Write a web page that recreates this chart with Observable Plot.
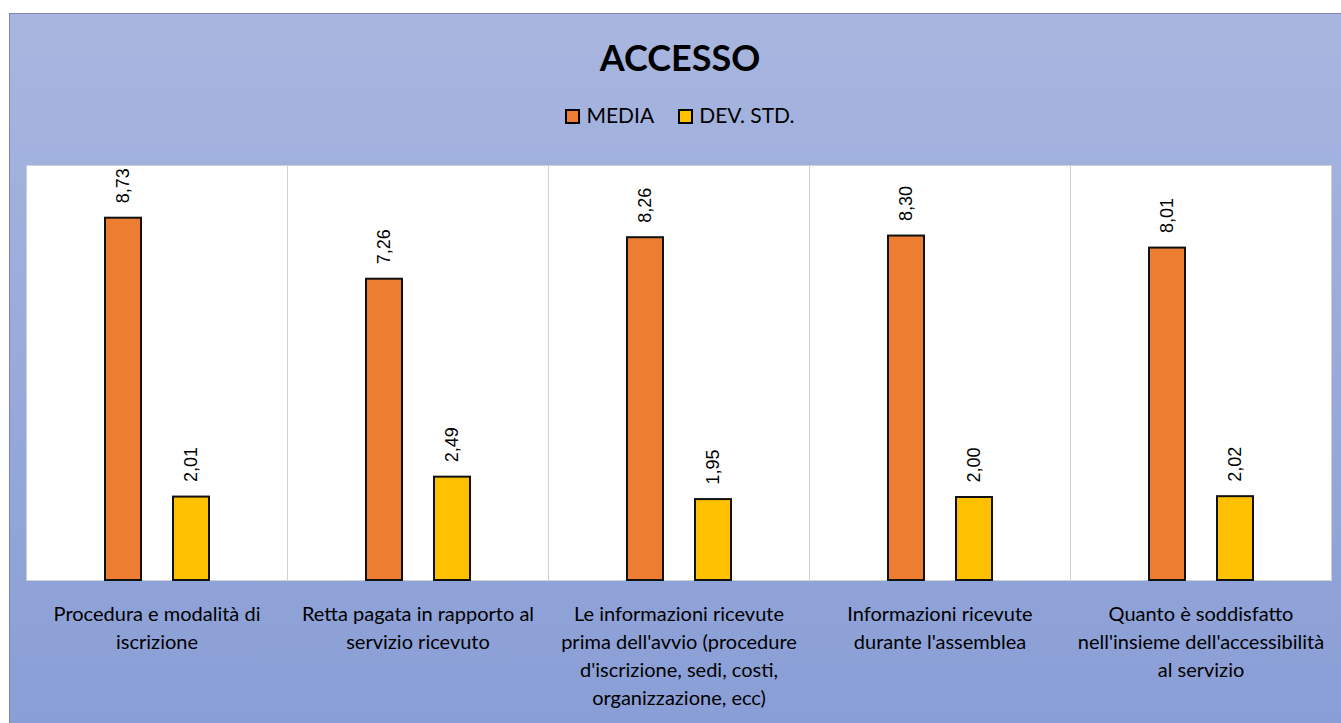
<!DOCTYPE html>
<html>
<head>
<meta charset="utf-8">
<script src="https://cdn.jsdelivr.net/npm/d3@7"></script>
<script src="https://cdn.jsdelivr.net/npm/@observablehq/plot@0.6"></script>
<style>
  html, body { margin: 0; padding: 0; background: white; overflow: hidden; }
  #chart {
    position: absolute; left: 9px; top: 13px; width: 1340px; height: 720px;
    border-top: 1px solid #7F84B5; border-left: 1px solid #7F84B5;
    background: linear-gradient(#A8B6DF, #899ED6);
    font-family: Lato, "Open Sans", sans-serif;
  }
  #title { height: 86px; line-height: 86px; text-align: center; font-weight: bold; font-size: 36px; color: #000; }
  #legend { height: 30px; line-height: 30px; text-align: center; font-size: 21px; color: #000; }
  .sw { display: inline-block; width: 11px; height: 11px; border: 2px solid #000; vertical-align: -1px; margin-right: 6px; }
  .item { display: inline-block; margin: 0 12px; }
</style>
</head>
<body>
<div id="chart">
  <div id="title">ACCESSO</div>
  <div id="legend"></div>
</div>
<script>
const categories = [
  "Procedura e modalità di iscrizione",
  "Retta pagata in rapporto al servizio ricevuto",
  "Le informazioni ricevute prima dell'avvio (procedure d'iscrizione, sedi, costi, organizzazione, ecc)",
  "Informazioni ricevute durante l'assemblea",
  "Quanto è soddisfatto nell'insieme dell'accessibilità al servizio"
];
const tickLabels = [
  "Procedura e modalità di\niscrizione",
  "Retta pagata in rapporto al\nservizio ricevuto",
  "Le informazioni ricevute\nprima dell'avvio (procedure\nd'iscrizione, sedi, costi,\norganizzazione, ecc)",
  "Informazioni ricevute\ndurante l'assemblea",
  "Quanto è soddisfatto\nnell'insieme dell'accessibilità\nal servizio"
];
const series = ["MEDIA", "DEV. STD."];
const media = [8.73, 7.26, 8.26, 8.30, 8.01];
const devStd = [2.01, 2.49, 1.95, 2.00, 2.02];
const colors = ["#ED7D31", "#FFC000"];

const data = [];
categories.forEach((c, i) => {
  data.push({category: c, series: series[0], value: media[i]});
  data.push({category: c, series: series[1], value: devStd[i]});
});

const fmt = v => d3.format(".2f")(v).replace(".", ",");

// legend
const legend = document.getElementById("legend");
series.forEach((s, i) => {
  const span = document.createElement("span");
  span.className = "item";
  span.innerHTML = `<span class="sw" style="background:${colors[i]}"></span>${s}`;
  legend.appendChild(span);
});

const plot = Plot.plot({
  width: 1340,
  height: 590,
  marginLeft: 16,
  marginRight: 19,
  marginTop: 35,
  marginBottom: 140,
  style: {background: "transparent", overflow: "visible"},
  fx: {domain: categories, padding: 0, axis: null},
  x: {domain: series, paddingInner: 0.4706, paddingOuter: 1.151, axis: null},
  y: {domain: [0, 10], axis: null},
  color: {domain: series, range: colors},
  marks: [
    Plot.frame({fill: "white", stroke: "#D0D0D0", strokeWidth: 1}),
    Plot.barY(data, {fx: "category", x: "series", y: "value", fill: "series", stroke: "#111", strokeWidth: 2}),
    Plot.text(data, {
      fx: "category", x: "series", y: "value",
      text: d => fmt(d.value),
      rotate: -90, textAnchor: "start", dy: -15,
      fontSize: 18, fontFamily: "Liberation Sans, Arial, sans-serif", fill: "#000"
    }),
    Plot.axisFx({
      domain: categories,
      anchor: "bottom",
      tickSize: 0,
      tickPadding: 21,
      tickFormat: d => tickLabels[categories.indexOf(d)],
      fontSize: 20,
      lineHeight: 1.4,
      fontFamily: "Lato, 'Open Sans', sans-serif",
      fill: "#000",
      label: null
    })
  ]
});
document.getElementById("chart").appendChild(plot);
</script>
</body>
</html>
